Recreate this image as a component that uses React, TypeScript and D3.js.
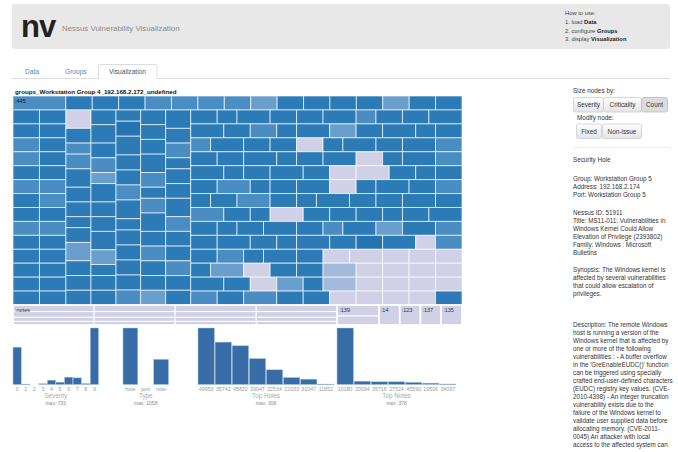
import React from 'react';
import * as d3 from 'd3';

// treemap leaves (vulnerability counts per node) and colour level of each leaf
const topRowCounts = [8, 4, 4, 4, 4, 4, 4, 4, 4, 4, 4, 4, 4, 4, 4, 4];
const topRowLevels = [1, 0, 0, 0, 1, 1, 1, 1, 2, 0, 0, 0, 0, 2, 0, 0];

// left part of the 445 block: columns of stacked nodes
const leftColumnCounts = [
  [4, 4, 4, 4, 4, 4, 4, 4, 4, 4, 4, 4, 4, 4],
  [4, 4, 4, 4, 4, 4, 4, 4, 4, 4, 4, 4, 4, 4],
  [5, 4, 3, 4, 5, 4, 4, 3, 4, 5, 4, 4, 4],
  [4, 5, 4, 4, 3, 5, 4, 4, 5, 4, 3, 4, 4],
  [3, 4, 5, 4, 4, 4, 5, 3, 4, 4, 4, 4, 4],
  [4, 4, 4, 5, 4, 3, 4, 5, 4, 4, 4, 4, 4],
  [5, 4, 4, 3, 4, 4, 5, 4, 4, 4, 4, 4, 4]
];
const leftColumnLevels = [
  [0, 0, 1, 1, 0, 1, 0, 0, 1, 0, 0, 0, 0, 0],
  [0, 0, 0, 0, 0, 1, 1, 0, 1, 0, 0, 0, 0, 0],
  [4, 0, 1, 1, 0, 0, 0, 0, 0, 2, 0, 0, 0],
  [0, 0, 0, 1, 2, 0, 0, 0, 0, 2, 0, 0, 0],
  [0, 5, 0, 0, 0, 1, 0, 0, 0, 0, 0, 0, 1],
  [0, 0, 0, 0, 1, 0, 1, 0, 0, 1, 0, 0, 2],
  [0, 0, 1, 0, 0, 0, 0, 1, 0, 0, 1, 0, 0]
];

// right part of the 445 block: rows of nodes side by side
const rightRowCounts = [
  [4, 3, 5, 4, 4, 5, 3, 4, 4, 5],
  [5, 4, 4, 3, 5, 4, 4, 5, 3, 4],
  [3, 5, 4, 4, 4, 3, 5, 4, 5, 4],
  [4, 4, 5, 3, 4, 5, 4, 3, 5, 4],
  [5, 3, 4, 5, 4, 4, 5, 4, 3, 4],
  [4, 5, 3, 4, 5, 4, 3, 5, 4, 4],
  [3, 4, 5, 4, 3, 5, 4, 4, 5, 4],
  [5, 4, 3, 5, 4, 4, 4, 3, 4, 5],
  [4, 3, 4, 5, 4, 3, 5, 4, 5, 4],
  [4, 5, 4, 3, 5, 4, 4, 5, 3, 4],
  [4, 4, 3, 5, 4, 4, 5, 4, 4, 4],
  [3, 5, 4, 4, 4, 5, 4, 4, 4, 4],
  [5, 4, 4, 4, 3, 5, 4, 4, 4, 4],
  [4, 4, 5, 4, 4, 4, 4, 4, 4, 4]
];
const rightRowLevels = [
  [0, 0, 0, 0, 0, 0, 1, 0, 0, 0],
  [0, 0, 1, 0, 0, 2, 0, 0, 0, 0],
  [1, 0, 0, 0, 4, 0, 0, 0, 0, 1],
  [0, 0, 0, 0, 0, 0, 4, 0, 0, 1],
  [0, 0, 0, 0, 0, 4, 4, 0, 0, 0],
  [0, 1, 0, 0, 0, 4, 0, 0, 0, 1],
  [0, 0, 1, 0, 0, 0, 0, 0, 0, 0],
  [1, 0, 0, 4, 0, 0, 0, 0, 0, 0],
  [0, 0, 0, 0, 0, 1, 0, 2, 0, 1],
  [0, 0, 0, 0, 0, 0, 5, 0, 4, 1],
  [0, 1, 0, 0, 0, 4, 4, 4, 4, 4],
  [0, 2, 4, 0, 0, 3, 4, 4, 4, 4],
  [0, 0, 4, 2, 0, 3, 4, 4, 4, 4],
  [1, 0, 1, 0, 0, 4, 4, 4, 4, 0]
];

const notesCounts = [[13, 11, 8, 7], [13, 11, 8, 7], [13, 11, 8, 7], [13, 11, 8, 7]];
const portLabels = [':139', ':14', ':123', ':137', ':135'];
const portCounts = [[11, 9], [10], [10], [10], [10]];

// histograms
const severityLabels = ['0', '1', '2', '3', '4', '5', '6', '7', '8', '9'];
const severityCounts = [484, 5, 0, 10, 56, 30, 95, 86, 12, 733];
const typeLabels = ['hole', 'port', 'note'];
const typeCounts = [1058, 0, 472];
const topHoleIds = ['49953', '35742', '45820', '39047', '22534', '22033', '31047', '11952'];
const topHoleCounts = [308, 231, 211, 141, 80, 38, 29, 2];
const topNoteIds = ['10180', '20094', '35716', '27524', '45590', '19506', '34097'];
const topNoteCounts = [378, 22, 18, 18, 14, 9, 3];

const detailParagraphs = [
  ['Security Hole'],
  ['Group: Workstation Group 5', 'Address: 192.168.2.174', 'Port: Workstation Group 5'],
  ['Nessus ID: 51911', 'Title: MS11-011: Vulnerabilities in', 'Windows Kernel Could Allow',
    'Elevation of Privilege (2393802)', 'Family: Windows : Microsoft', 'Bulletins'],
  ['Synopsis: The Windows kernel is', 'affected by several vulnerabilities',
    'that could allow escalation of', 'privileges.'],
  ['Description: The remote Windows', 'host is running a version of the',
    'Windows kernel that is affected by', 'one or more of the following',
    'vulnerabilities : - A buffer overflow', "in the 'GreEnableEUDC()' function",
    'can be triggered using specially', 'crafted end-user-defined characters',
    '(EUDC) registry key values. (CVE-', '2010-4398) - An integer truncation',
    'vulnerability exists due to the', 'failure of the Windows kernel to',
    'validate user supplied data before', 'allocating memory. (CVE-2011-',
    '0045) An attacker with local', 'access to the affected system can']
];
const paragraphTops = [162, 180.5, 214.5, 271.5, 326.5];
const LINE_H = 8;

const FONT = '"Liberation Sans", Arial, Helvetica, sans-serif';
const TM_X = 13, TM_Y = 96, TM_W = 449, TM_H = 209, STRIP_H = 20;
const BAR_BASE = 384.5, BAR_TOP = 328;

const levelColor = d3.scaleOrdinal<number, string>()
  .domain([0, 1, 2, 3, 4, 5])
  .range(['#2c7bb6', '#4a8dc3', '#6a9ecc', '#a3badb', '#d0d1e6', '#2573b1']);

// each node tells which tiling to use
const tile = (node: any, x0: number, y0: number, x1: number, y1: number) => {
  const t = node.data.tile;
  if (t === 'slice') d3.treemapSlice(node, x0, y0, x1, y1);
  else if (t === 'dice') d3.treemapDice(node, x0, y0, x1, y1);
  else d3.treemapSquarify(node, x0, y0, x1, y1);
};

const leafList = (counts: number[], levels: number[]) =>
  counts.map((v, i) => ({ value: v, level: levels[i] }));

const mainTree = () => {
  const data = {
    tile: 'slice',
    children: [
      { tile: 'squarify', children: leafList(topRowCounts, topRowLevels) },
      {
        tile: 'dice',
        children: [
          { tile: 'dice', children: leftColumnCounts.map((c, i) => ({ tile: 'slice', children: leafList(c, leftColumnLevels[i]) })) },
          { tile: 'slice', children: rightRowCounts.map((r, i) => ({ tile: 'dice', children: leafList(r, rightRowLevels[i]) })) }
        ]
      }
    ]
  };
  const root = d3.hierarchy<any>(data).sum(d => d.value || 0);
  d3.treemap<any>().size([TM_W, TM_H]).tile(tile)(root);
  return root as d3.HierarchyRectangularNode<any>;
};

const stripTree = () => {
  const data = {
    tile: 'dice',
    children: [
      {
        name: ':notes', tile: 'dice',
        children: notesCounts.map(col => ({ tile: 'slice', children: col.map(v => ({ value: v, level: 4 })) }))
      },
      ...portLabels.map((p, i) => ({
        name: p, tile: 'slice', children: portCounts[i].map(v => ({ value: v, level: 4 }))
      }))
    ]
  };
  const root = d3.hierarchy<any>(data).sum(d => d.value || 0);
  d3.treemap<any>().size([TM_W, STRIP_H]).tile(tile)(root);
  return root as d3.HierarchyRectangularNode<any>;
};

const Histogram = ({ x0, x1, labels, counts, title }:
  { x0: number, x1: number, labels: string[], counts: number[], title: string }) => {
  const x = d3.scaleBand().domain(labels).range([x0, x1]).paddingInner(0.04);
  const mx = d3.max(counts) || 1;
  const y = d3.scaleLinear().domain([0, mx]).range([BAR_BASE, BAR_TOP]);
  const cx = (x0 + x1) / 2;
  return (
    <g>
      {counts.map((c, i) => c > 0 && (
        <rect key={i} x={x(labels[i])} y={y(c)} width={x.bandwidth()} height={Math.max(0.6, BAR_BASE - y(c))}
          fill="#386ca6" stroke="#a9c3e2" strokeWidth={0.5} />
      ))}
      {labels.map(l => (
        <text key={l} x={(x(l) || 0) + x.bandwidth() / 2} y={390.5} textAnchor="middle"
          fontSize={5.3} fill="#999">{l}</text>
      ))}
      <text x={cx} y={398} textAnchor="middle" fontSize={6.3} fill="#aaa">{title}</text>
      <text x={cx} y={404.5} textAnchor="middle" fontSize={5} fill="#888">max: {mx}</text>
    </g>
  );
};

const Button = ({ x, w, y, label, active }: { x: number, w: number, y: number, label: string, active?: boolean }) => (
  <g>
    <rect x={x + 0.5} y={y + 0.5} width={w - 1} height={14.5} rx={2}
      fill={active ? '#dcdcdc' : 'url(#btnGrad)'} stroke={active ? '#bbb' : '#ccc'} strokeWidth={0.8} />
    <text x={x + w / 2} y={y + 10.2} textAnchor="middle" fontSize={6.4} fill="#333">{label}</text>
  </g>
);

export default function App() {
  const main = mainTree();
  const strip = stripTree();
  const mainLeaves = main.leaves();
  const stripLeaves = strip.leaves();
  const stripGroups = strip.children || [];

  return (
    <svg width={678} height={452} style={{ position: 'absolute', left: 0, top: 0, fontFamily: FONT }}>
      <defs>
        <linearGradient id="btnGrad" x1="0" y1="0" x2="0" y2="1">
          <stop offset="0" stopColor="#ffffff" />
          <stop offset="1" stopColor="#e4e4e4" />
        </linearGradient>
      </defs>
      <rect width={678} height={452} fill="#fff" />

      {/* header */}
      <rect x={12} y={4} width={658} height={45} rx={3} fill="#e8e8e8" />
      <text x={21} y={37} fontSize={31} fontWeight="bold" letterSpacing={-1} fill="#222">nv</text>
      <text x={62} y={31} fontSize={7.9} fill="#8a8a8a">Nessus Vulnerability Visualization</text>
      <g fontSize={5.8} fill="#444">
        <text x={565} y={15}>How to use:</text>
        <text x={565} y={24}>1. load <tspan fontWeight="bold" fill="#222">Data</tspan></text>
        <text x={565} y={32.5}>2. configure <tspan fontWeight="bold" fill="#222">Groups</tspan></text>
        <text x={565} y={41}>3. display <tspan fontWeight="bold" fill="#222">Visualization</tspan></text>
      </g>

      {/* tabs */}
      <line x1={12} x2={670} y1={78.5} y2={78.5} stroke="#ddd" />
      <path d="M98.5,78.5 V66 Q98.5,64.5 100,64.5 H155.5 Q157,64.5 157,66 V78.5" fill="#fff" stroke="#ddd" />
      <rect x={99} y={77} width={57.5} height={2.5} fill="#fff" />
      <text x={25} y={74} fontSize={6.6} fill="#428bca">Data</text>
      <text x={65} y={74} fontSize={6.6} fill="#428bca">Groups</text>
      <text x={127.5} y={74} fontSize={6.6} fill="#555" textAnchor="middle">Visualization</text>

      {/* treemap */}
      <text x={15} y={94} fontSize={6.2} fontWeight="bold" fill="#111">groups_Workstation Group 4_192.168.2.172_undefined</text>
      <g transform={`translate(${TM_X},${TM_Y})`}>
        {mainLeaves.map((d, i) => (
          <rect key={i} x={d.x0} y={d.y0} width={d.x1 - d.x0} height={d.y1 - d.y0}
            fill={levelColor(d.data.level)} stroke="#fff" strokeOpacity={0.65} strokeWidth={1} />
        ))}
        <text x={2} y={6.5} fontSize={5.5} fill="#1a1a1a">:445</text>
      </g>
      <g transform={`translate(${TM_X},${TM_Y + TM_H})`}>
        {stripLeaves.map((d, i) => (
          <rect key={i} x={d.x0} y={d.y0} width={d.x1 - d.x0} height={d.y1 - d.y0}
            fill={levelColor(d.data.level)} stroke="#fff" strokeWidth={1} />
        ))}
        {stripGroups.map((g, i) => (
          <g key={i}>
            <rect x={g.x0} y={g.y0} width={g.x1 - g.x0} height={g.y1 - g.y0} fill="none" stroke="#fff" strokeWidth={1.5} />
            <text x={g.x0 + 2} y={g.y0 + 6.5} fontSize={5.5} fill="#333">{g.data.name}</text>
          </g>
        ))}
      </g>

      {/* histograms */}
      <Histogram x0={13} x1={98.5} labels={severityLabels} counts={severityCounts} title="Severity" />
      <Histogram x0={123} x1={168.5} labels={typeLabels} counts={typeCounts} title="Type" />
      <Histogram x0={198} x1={334} labels={topHoleIds} counts={topHoleCounts} title="Top Holes" />
      <Histogram x0={337} x1={456} labels={topNoteIds} counts={topNoteCounts} title="Top Notes" />

      {/* side panel */}
      <text x={573} y={93} fontSize={6.4} fill="#333">Size nodes by:</text>
      <Button x={573} w={31} y={97} label="Severity" />
      <Button x={603} w={39} y={97} label="Criticality" />
      <Button x={641} w={27} y={97} label="Count" active />
      <text x={577} y={120} fontSize={6.4} fill="#333">Modify node:</text>
      <Button x={576} w={26} y={123.5} label="Fixed" />
      <Button x={602} w={40} y={123.5} label="Non-issue" />
      <line x1={573} x2={670} y1={147.5} y2={147.5} stroke="#eee" />
      <g fontSize={6.3} fill="#333">
        {detailParagraphs.map((p, pi) => p.map((line, li) => (
          <text key={`${pi}-${li}`} x={573} y={paragraphTops[pi] + li * LINE_H}>{line}</text>
        )))}
      </g>
    </svg>
  );
}
